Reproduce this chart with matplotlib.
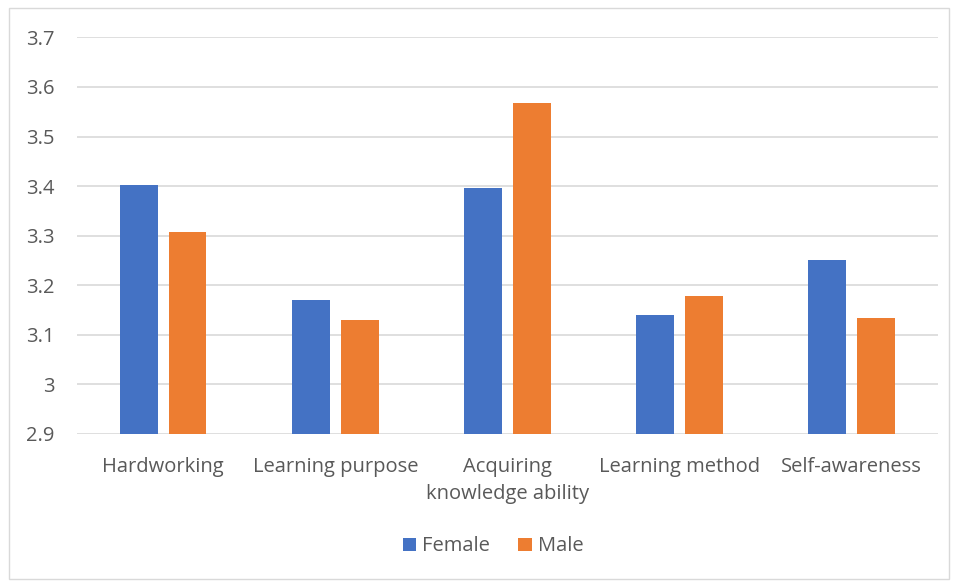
import matplotlib.pyplot as plt
import numpy as np
from matplotlib.patches import Rectangle

# data
categories = ['Hardworking', 'Learning purpose', 'Acquiring\nknowledge ability',
              'Learning method', 'Self-awareness']
female = [3.402, 3.170, 3.397, 3.140, 3.251]
male = [3.308, 3.130, 3.568, 3.178, 3.134]

plt.rcParams['font.family'] = ['Open Sans', 'DejaVu Sans']
txt = '#595959'

fig = plt.figure(figsize=(9.58, 5.82), dpi=100)
ax = fig.add_axes([0.0804, 0.255, 0.8986, 0.6806])

x = np.arange(len(categories))
w = 0.22
off = 0.142
ax.bar(x - off, female, w, color='#4472C4', label='Female', zorder=3)
ax.bar(x + off, male, w, color='#ED7D31', label='Male', zorder=3)

ax.set_ylim(2.9, 3.7)
ax.set_xlim(-0.5, len(categories) - 0.5)
ax.set_yticks(np.arange(2.9, 3.71, 0.1))
ax.set_yticklabels(['2.9', '3', '3.1', '3.2', '3.3', '3.4', '3.5', '3.6', '3.7'])
ax.set_xticks(x)
ax.set_xticklabels(categories, va='top', linespacing=1.45)
ax.tick_params(length=0, labelsize=14.5, colors=txt)
ax.tick_params(axis='y', pad=16)
ax.tick_params(axis='x', pad=17)
ax.grid(axis='y', color='#D9D9D9', linewidth=1.2, zorder=0)
for s in ax.spines.values():
    s.set_visible(False)

ax.legend(loc='center', bbox_to_anchor=(0.4835, -0.285), ncol=2, frameon=False,
          fontsize=14.5, labelcolor=txt, handlelength=0.65, handleheight=0.65,
          handletextpad=0.3, columnspacing=1.4)

# chart frame
fig.patches.append(Rectangle((0.009, 0.005), 0.982, 0.982, transform=fig.transFigure,
                             fill=False, edgecolor='#D9D9D9', linewidth=1))

fig.savefig('out.png', dpi=100)
